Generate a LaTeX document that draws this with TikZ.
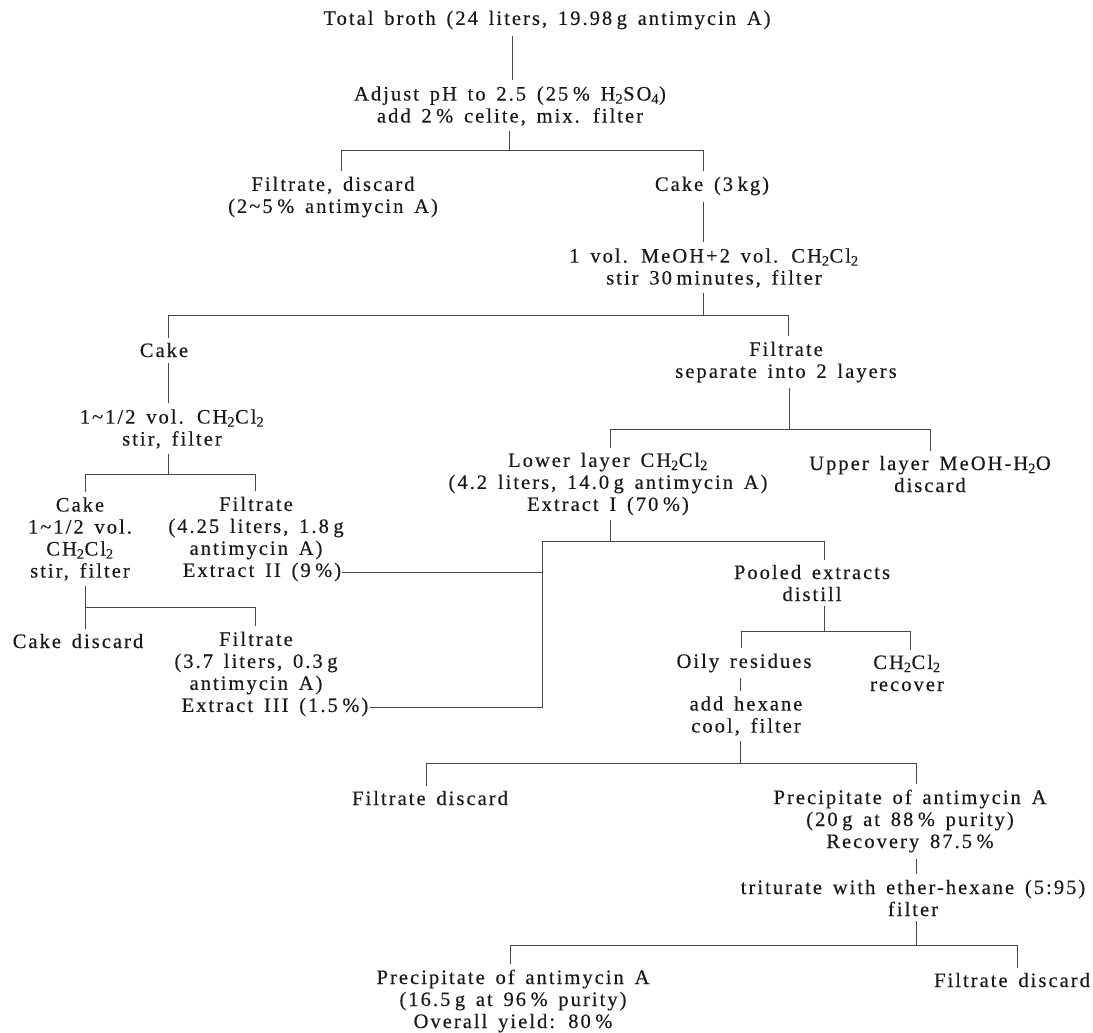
\documentclass[tikz,border=0pt]{standalone}
\usepackage{fontspec}
\setmainfont{Liberation Serif}[LetterSpace=10,WordSpace=1.5,FakeBold=0.3]
\usetikzlibrary{calc}
\definecolor{ink}{gray}{0.1}
\newcommand\tsp{\hspace{0.22em}}
\newcommand\tld{\textasciitilde}
\begin{document}
\begin{tikzpicture}[x=1pt,y=-1pt,
  lab/.style={align=center,inner sep=0pt,text=ink,font=\fontsize{20.5}{22}\selectfont},
  wire/.style={draw=ink!80,line width=0.75pt}]
\useasboundingbox (0,0) rectangle (1093,1033);
\fill[white] (0,0) rectangle (1093,1033);
% nodes
\node[lab] (tb) at (547,20) {Total broth (24 liters, 19.98\tsp g antimycin A)};
\node[lab] (adj) at (510,106) {Adjust pH to 2.5 (25\tsp\% H\textsubscript{2}SO\textsubscript{4})\\add 2\tsp\% celite, mix. filter};
\node[lab] (fd) at (333,197) {Filtrate, discard\\(2\tld5\tsp\% antimycin A)};
\node[lab] (c3) at (712,186) {Cake (3\tsp kg)};
\node[lab] (mix) at (714,268) {1 vol. MeOH+2 vol. CH\textsubscript{2}Cl\textsubscript{2}\\stir 30\tsp minutes, filter};
\node[lab] (cake1) at (164,350) {Cake};
\node[lab] (solv1) at (172,429) {1\tld1/2 vol. CH\textsubscript{2}Cl\textsubscript{2}\\stir, filter};
\node[lab] (cake2) at (80,539) {Cake\\1\tld1/2 vol.\\CH\textsubscript{2}Cl\textsubscript{2}\\stir, filter};
\node[lab] (filt2) at (256,528) {Filtrate\\(4.25 liters, 1.8\tsp g\\antimycin A)};
\node[lab] (ex2) at (262,572) {Extract II (9\tsp\%)};
\node[lab] (cd) at (78,641) {Cake discard};
\node[lab] (filt3) at (256,663) {Filtrate\\(3.7 liters, 0.3\tsp g\\antimycin A)};
\node[lab] (ex3) at (275,707) {Extract III (1.5\tsp\%)};
\node[lab] (filt1) at (786,362) {Filtrate\\separate into 2 layers};
\node[lab] (lower) at (608,484) {Lower layer CH\textsubscript{2}Cl\textsubscript{2}\\(4.2 liters, 14.0\tsp g antimycin A)\\Extract I (70\tsp\%)};
\node[lab] (upper) at (930,474) {Upper layer MeOH-H\textsubscript{2}O\\discard};
\node[lab] (pool) at (812,583) {Pooled extracts\\distill};
\node[lab] (oily) at (744,663) {Oily residues};
\node[lab] (rec) at (907,673) {CH\textsubscript{2}Cl\textsubscript{2}\\recover};
\node[lab] (hex) at (746,716) {add hexane\\cool, filter};
\node[lab] (fd2) at (430,798) {Filtrate discard};
\node[lab] (prec1) at (910,821) {Precipitate of antimycin A\\(20\tsp g at 88\tsp\% purity)\\Recovery 87.5\tsp\%};
\node[lab] (trit) at (913,898) {triturate with ether-hexane (5:95)\\filter};
\node[lab] (prec2) at (513,1001) {Precipitate of antimycin A\\(16.5\tsp g at 96\tsp\% purity)\\Overall yield: 80\tsp\%};
\node[lab] (fd3) at (1012,980) {Filtrate discard};
% junction coordinates
\coordinate (x512) at (512,0);
\coordinate (x703) at (703,0);
\coordinate (x168) at (168,0);
\coordinate (x740) at (740,0);
\coordinate (x916) at (916,0);
\coordinate (aM) at (509,150); \coordinate (aL) at (341,150); \coordinate (aR) at (703,150);
\coordinate (bM) at (703,315); \coordinate (bL) at (168,315); \coordinate (bR) at (788,315);
\coordinate (cM) at (168,474); \coordinate (cL) at (85,474);  \coordinate (cR) at (255,474);
\coordinate (dL) at (85,607);  \coordinate (dR) at (255,607);
\coordinate (eM) at (789,429); \coordinate (eL) at (610,429); \coordinate (eR) at (930,429);
\coordinate (fM) at (610,541); \coordinate (vL) at (542,541); \coordinate (fR) at (824,541);
\coordinate (gM) at (824,631); \coordinate (gL) at (741,631); \coordinate (gR) at (910,631);
\coordinate (hM) at (740,763); \coordinate (hL) at (426,763); \coordinate (hR) at (916,763);
\coordinate (iM) at (916,945); \coordinate (iL) at (510,945); \coordinate (iR) at (1017,945);
% straight connectors
\draw[wire] ($(tb.south -| x512)+(0,6)$) -- ($(adj.north -| x512)+(0,-6)$);
\draw[wire] ($(c3.south -| x703)+(0,6)$) -- ($(mix.north -| x703)+(0,-6)$);
\draw[wire] ($(cake1.south -| x168)+(0,6)$) -- ($(solv1.north -| x168)+(0,-6)$);
\draw[wire] ($(oily.south -| x740)+(0,5)$) -- ($(hex.north -| x740)+(0,-5)$);
\draw[wire] ($(prec1.south -| x916)+(0,6)$) -- ($(trit.north -| x916)+(0,-6)$);
% fork A
\draw[wire] ($(adj.south -| aM)+(0,5)$) -- (aM);
\draw[wire] (aL) -- (aR);
\draw[wire] (aL) -- ($(fd.north -| aL)+(0,-5)$);
\draw[wire] (aR) -- ($(c3.north -| aR)+(0,-5)$);
% fork B
\draw[wire] ($(mix.south -| bM)+(0,5)$) -- (bM);
\draw[wire] (bL) -- (bR);
\draw[wire] (bL) -- ($(cake1.north -| bL)+(0,-5)$);
\draw[wire] (bR) -- ($(filt1.north -| bR)+(0,-5)$);
% fork C
\draw[wire] ($(solv1.south -| cM)+(0,5)$) -- (cM);
\draw[wire] (cL) -- (cR);
\draw[wire] (cL) -- ($(cake2.north -| cL)+(0,-5)$);
\draw[wire] (cR) -- ($(filt2.north -| cR)+(0,-5)$);
% fork D
\draw[wire] ($(cake2.south -| dL)+(0,5)$) -- (dL);
\draw[wire] (dL) -- (dR);
\draw[wire] (dL) -- ($(cd.north -| dL)+(0,-5)$);
\draw[wire] (dR) -- ($(filt3.north -| dR)+(0,-5)$);
% fork E
\draw[wire] ($(filt1.south -| eM)+(0,5)$) -- (eM);
\draw[wire] (eL) -- (eR);
\draw[wire] (eL) -- ($(lower.north -| eL)+(0,-5)$);
\draw[wire] (eR) -- ($(upper.north -| eR)+(0,-5)$);
% fork F with pooled extracts
\draw[wire] ($(lower.south -| fM)+(0,5)$) -- (fM);
\draw[wire] (vL) -- (fR);
\draw[wire] (fR) -- ($(pool.north -| fR)+(0,-5)$);
\draw[wire] ($(ex2.east)+(1,0)$) -- (ex2.east -| vL);
\draw[wire] (vL) -- (vL |- ex3.east) -- ($(ex3.east)+(1,0)$);
% fork G
\draw[wire] ($(pool.south -| gM)+(0,5)$) -- (gM);
\draw[wire] (gL) -- (gR);
\draw[wire] (gL) -- ($(oily.north -| gL)+(0,-5)$);
\draw[wire] (gR) -- ($(rec.north -| gR)+(0,-5)$);
% fork H
\draw[wire] ($(hex.south -| hM)+(0,5)$) -- (hM);
\draw[wire] (hL) -- (hR);
\draw[wire] (hL) -- ($(fd2.north -| hL)+(0,-5)$);
\draw[wire] (hR) -- ($(prec1.north -| hR)+(0,-5)$);
% fork I
\draw[wire] ($(trit.south -| iM)+(0,5)$) -- (iM);
\draw[wire] (iL) -- (iR);
\draw[wire] (iL) -- ($(prec2.north -| iL)+(0,-5)$);
\draw[wire] (iR) -- ($(fd3.north -| iR)+(0,-5)$);
\end{tikzpicture}
\end{document}
